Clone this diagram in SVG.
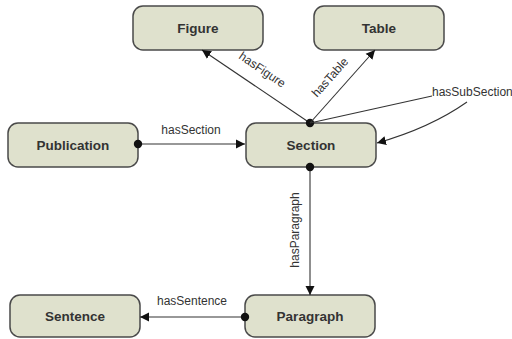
<svg xmlns="http://www.w3.org/2000/svg" width="512" height="339" viewBox="0 0 512 339">
<defs>
<style>
.node rect{fill:#dfe1cd;stroke:#4a4a4a;stroke-width:1.5}
.node text{font-family:"Liberation Sans",Arial,sans-serif;font-weight:bold;font-size:13.5px;fill:#333;text-anchor:middle;dominant-baseline:central}
.edge{stroke:#333;stroke-width:1.1;fill:none}
.lbl{font-family:"Liberation Sans",Arial,sans-serif;font-size:12px;fill:#333;text-anchor:middle}
</style>
<marker id="arr" markerWidth="10" markerHeight="10" refX="9" refY="5" orient="auto" markerUnits="userSpaceOnUse">
<path d="M0,0.5 L9,5 L0,9.5 Z" fill="#111"/>
</marker>
<marker id="dot" markerWidth="10" markerHeight="10" refX="5" refY="5" markerUnits="userSpaceOnUse">
<circle cx="5" cy="5" r="4.2" fill="#111"/>
</marker>
</defs>
<rect width="512" height="339" fill="#fff"/>
<g id="figure" class="node"><rect x="133" y="6" width="130" height="44" rx="10"/><text x="198" y="28">Figure</text></g>
<g id="table" class="node"><rect x="314" y="6" width="130" height="44" rx="10"/><text x="379" y="28">Table</text></g>
<g id="publication" class="node"><rect x="8" y="123" width="130" height="44" rx="10"/><text x="73" y="145">Publication</text></g>
<g id="section" class="node"><rect x="246" y="123" width="130" height="44" rx="10"/><text x="311" y="145">Section</text></g>
<g id="sentence" class="node"><rect x="10" y="295" width="130" height="42" rx="10"/><text x="75" y="316">Sentence</text></g>
<g id="paragraph" class="node"><rect x="245" y="295" width="130" height="42" rx="10"/><text x="310" y="316">Paragraph</text></g>
<g id="connectors">
<line class="edge" x1="310" y1="123" x2="202" y2="50" marker-start="url(#dot)" marker-end="url(#arr)"/>
<line class="edge" x1="310" y1="123" x2="375" y2="50" marker-end="url(#arr)"/>
<line class="edge" x1="310" y1="123" x2="432" y2="96"/>
<path class="edge" d="M467,102 Q430,128 377,143" marker-end="url(#arr)"/>
<line class="edge" x1="138" y1="144" x2="245" y2="144" marker-start="url(#dot)" marker-end="url(#arr)"/>
<line class="edge" x1="310" y1="167" x2="310" y2="295" marker-start="url(#dot)" marker-end="url(#arr)"/>
<line class="edge" x1="245" y1="317" x2="140" y2="317" marker-start="url(#dot)" marker-end="url(#arr)"/>
<text class="lbl" transform="translate(260,73) rotate(34)">hasFigure</text>
<text class="lbl" transform="translate(333,80) rotate(-48)">hasTable</text>
<text class="lbl" x="432" y="96" style="text-anchor:start">hasSubSection</text>
<text class="lbl" x="191" y="134">hasSection</text>
<text class="lbl" transform="translate(299,230) rotate(-90)">hasParagraph</text>
<text class="lbl" x="192" y="305">hasSentence</text>
</g>
</svg>
